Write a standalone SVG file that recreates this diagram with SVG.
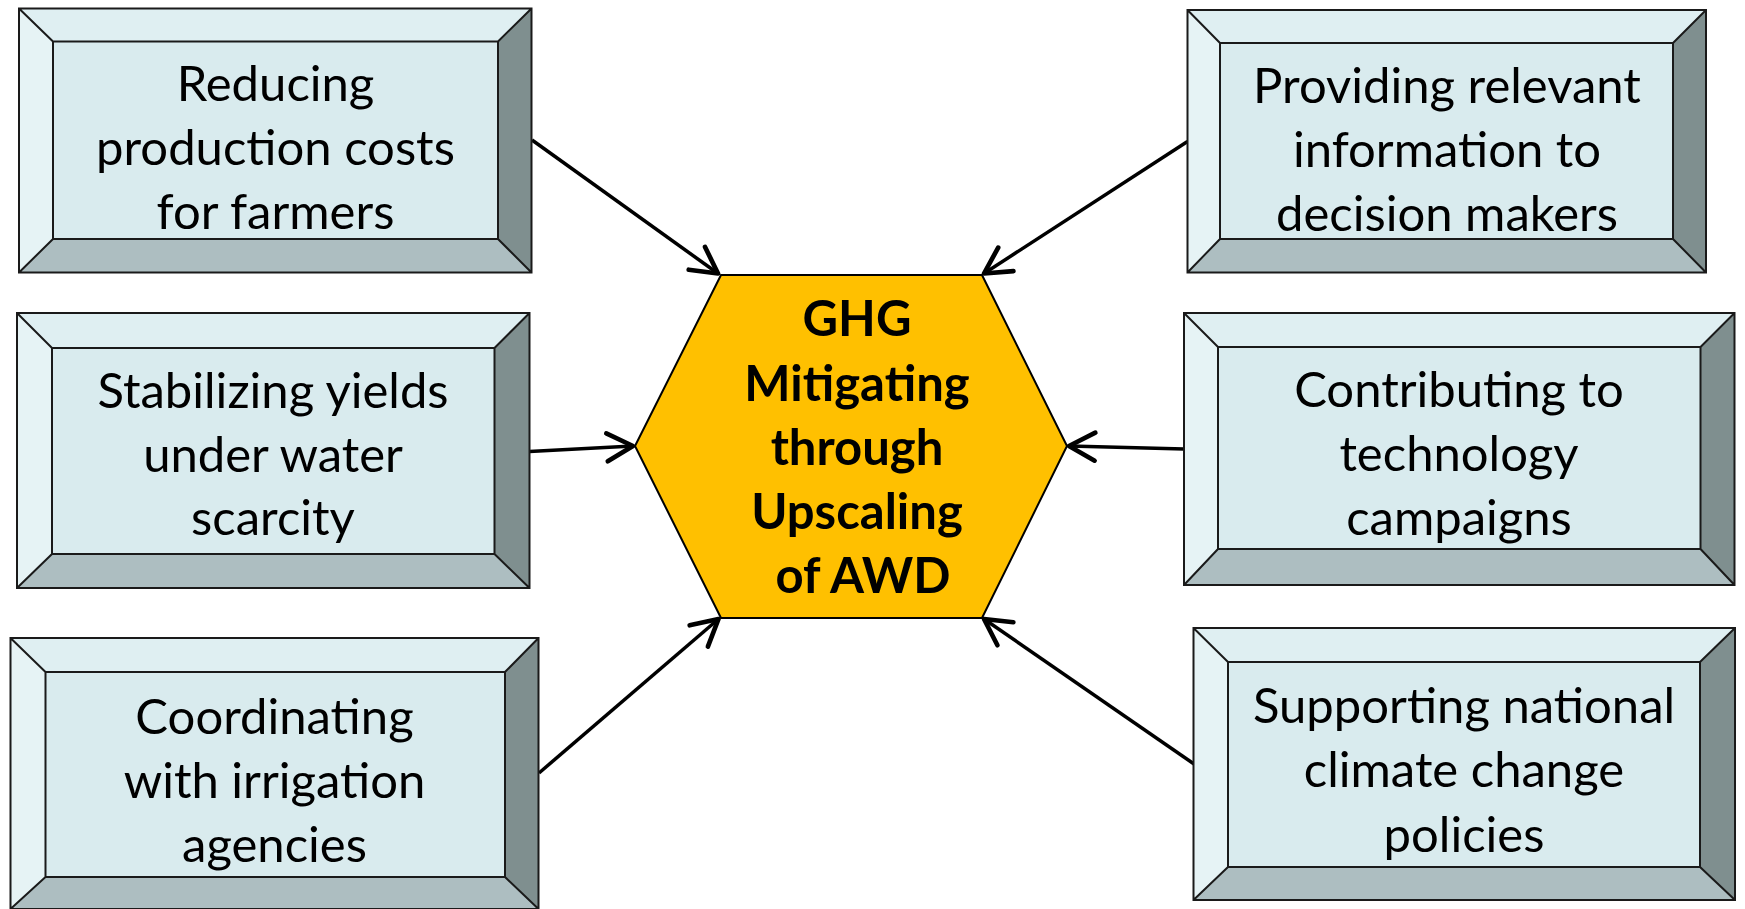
<svg xmlns="http://www.w3.org/2000/svg" width="1745" height="909" viewBox="0 0 1745 909">
  <defs>
    <style>
      .top { fill: #DFEFF2; }
      .left { fill: #E6F3F5; }
      .right { fill: #7F8F8F; }
      .bottom { fill: #ADBEC1; }
      .face { fill: #D9EBEE; }
      .edge { fill: none; stroke: #1a1a1a; stroke-width: 2; stroke-linejoin: miter; }
      .label { font-family: Lato, "Liberation Sans", sans-serif; font-size: 49px; fill: #000; text-anchor: middle; }
      .hex { fill: #FFC000; stroke: #000; stroke-width: 2; }
      .hexlabel { font-family: Lato, "Liberation Sans", sans-serif; font-weight: bold; font-size: 49px; fill: #000; text-anchor: middle; }
      .conn { fill: none; stroke: #000; stroke-width: 3.5; marker-end: url(#open-arrow); }
    </style>
    <marker id="open-arrow" markerUnits="userSpaceOnUse" markerWidth="40" markerHeight="40" viewBox="-25 -15 30 30" refX="0" refY="0" orient="auto">
      <path d="M -19.5 -10.5 L 0 0 L -19.5 10.5" fill="none" stroke="#000" stroke-width="3.5" stroke-linecap="round" stroke-linejoin="round"/>
    </marker>
  </defs>

  <!-- connectors: each outer box points at the central hexagon -->
  <g id="connectors">
    <line class="conn" x1="532" y1="140" x2="718" y2="273.5"/>
    <line class="conn" x1="1187.5" y1="141.5" x2="984" y2="273.5"/>
    <line class="conn" x1="529.5" y1="451.5" x2="633" y2="446"/>
    <line class="conn" x1="1184" y1="449" x2="1069" y2="446"/>
    <line class="conn" x1="539" y1="773" x2="718.5" y2="619"/>
    <line class="conn" x1="1194" y1="764" x2="984" y2="619"/>
  </g>

  <!-- central hexagon -->
  <g id="center">
    <polygon class="hex" points="721,275 982,275 1067,446 982,618 721,618 635,446"/>
    <text class="hexlabel" x="857" y="336">GHG</text>
    <text class="hexlabel" x="857" y="401">Mitigating</text>
    <text class="hexlabel" x="857" y="465">through</text>
    <text class="hexlabel" x="857" y="529">Upscaling</text>
    <text class="hexlabel" x="863" y="593">of AWD</text>
  </g>

  <!-- bevelled boxes -->
  <g id="box-reducing">
    <polygon class="top" points="19,8.5 531.5,8.5 498,41.5 53,41.5"/>
    <polygon class="left" points="19,8.5 53,41.5 53,239 19,272.5"/>
    <polygon class="right" points="531.5,8.5 531.5,272.5 498,239 498,41.5"/>
    <polygon class="bottom" points="19,272.5 53,239 498,239 531.5,272.5"/>
    <rect class="face" x="53" y="41.5" width="445" height="197.5"/>
    <path class="edge" d="M19,8.5 H531.5 V272.5 H19 Z M53,41.5 H498 V239 H53 Z M19,8.5 L53,41.5 M531.5,8.5 L498,41.5 M19,272.5 L53,239 M531.5,272.5 L498,239"/>
    <text class="label" x="275.5" y="100.5">Reducing</text>
    <text class="label" x="275.5" y="164.5">production costs</text>
    <text class="label" x="275.5" y="228.5">for farmers</text>
  </g>

  <g id="box-providing">
    <polygon class="top" points="1187.5,10 1706,10 1673,43 1220,43"/>
    <polygon class="left" points="1187.5,10 1220,43 1220,239 1187.5,272.5"/>
    <polygon class="right" points="1706,10 1706,272.5 1673,239 1673,43"/>
    <polygon class="bottom" points="1187.5,272.5 1220,239 1673,239 1706,272.5"/>
    <rect class="face" x="1220" y="43" width="453" height="196"/>
    <path class="edge" d="M1187.5,10 H1706 V272.5 H1187.5 Z M1220,43 H1673 V239 H1220 Z M1187.5,10 L1220,43 M1706,10 L1673,43 M1187.5,272.5 L1220,239 M1706,272.5 L1673,239"/>
    <text class="label" x="1447" y="102.5">Providing relevant</text>
    <text class="label" x="1447" y="166.5">information to</text>
    <text class="label" x="1447" y="231">decision makers</text>
  </g>

  <g id="box-stabilizing">
    <polygon class="top" points="17,313 529.5,313 494.5,348 52,348"/>
    <polygon class="left" points="17,313 52,348 52,554 17,588"/>
    <polygon class="right" points="529.5,313 529.5,588 494.5,554 494.5,348"/>
    <polygon class="bottom" points="17,588 52,554 494.5,554 529.5,588"/>
    <rect class="face" x="52" y="348" width="442.5" height="206"/>
    <path class="edge" d="M17,313 H529.5 V588 H17 Z M52,348 H494.5 V554 H52 Z M17,313 L52,348 M529.5,313 L494.5,348 M17,588 L52,554 M529.5,588 L494.5,554"/>
    <text class="label" x="273" y="408">Stabilizing yields</text>
    <text class="label" x="273" y="472">under water</text>
    <text class="label" x="273" y="535">scarcity</text>
  </g>

  <g id="box-contributing">
    <polygon class="top" points="1184,313 1734.5,313 1700.5,347 1218,347"/>
    <polygon class="left" points="1184,313 1218,347 1218,549 1184,585"/>
    <polygon class="right" points="1734.5,313 1734.5,585 1700.5,549 1700.5,347"/>
    <polygon class="bottom" points="1184,585 1218,549 1700.5,549 1734.5,585"/>
    <rect class="face" x="1218" y="347" width="482.5" height="202"/>
    <path class="edge" d="M1184,313 H1734.5 V585 H1184 Z M1218,347 H1700.5 V549 H1218 Z M1184,313 L1218,347 M1734.5,313 L1700.5,347 M1184,585 L1218,549 M1734.5,585 L1700.5,549"/>
    <text class="label" x="1459" y="406.5">Contributing to</text>
    <text class="label" x="1459" y="470.5">technology</text>
    <text class="label" x="1459" y="535">campaigns</text>
  </g>

  <g id="box-coordinating">
    <polygon class="top" points="10.5,638 538.5,638 505,672 45.5,672"/>
    <polygon class="left" points="10.5,638 45.5,672 45.5,877 10.5,909"/>
    <polygon class="right" points="538.5,638 538.5,909 505,877 505,672"/>
    <polygon class="bottom" points="10.5,909 45.5,877 505,877 538.5,909"/>
    <rect class="face" x="45.5" y="672" width="459.5" height="205"/>
    <path class="edge" d="M10.5,638 H538.5 V909 H10.5 Z M45.5,672 H505 V877 H45.5 Z M10.5,638 L45.5,672 M538.5,638 L505,672 M10.5,909 L45.5,877 M538.5,909 L505,877"/>
    <text class="label" x="274.5" y="733.5">Coordinating</text>
    <text class="label" x="274.5" y="798">with irrigation</text>
    <text class="label" x="274.5" y="862">agencies</text>
  </g>

  <g id="box-supporting">
    <polygon class="top" points="1193.5,628 1735,628 1700,662 1228,662"/>
    <polygon class="left" points="1193.5,628 1228,662 1228,867 1193.5,900"/>
    <polygon class="right" points="1735,628 1735,900 1700,867 1700,662"/>
    <polygon class="bottom" points="1193.5,900 1228,867 1700,867 1735,900"/>
    <rect class="face" x="1228" y="662" width="472" height="205"/>
    <path class="edge" d="M1193.5,628 H1735 V900 H1193.5 Z M1228,662 H1700 V867 H1228 Z M1193.5,628 L1228,662 M1735,628 L1700,662 M1193.5,900 L1228,867 M1735,900 L1700,867"/>
    <text class="label" x="1464" y="723">Supporting national</text>
    <text class="label" x="1464" y="787">climate change</text>
    <text class="label" x="1464" y="851.5">policies</text>
  </g>
</svg>
